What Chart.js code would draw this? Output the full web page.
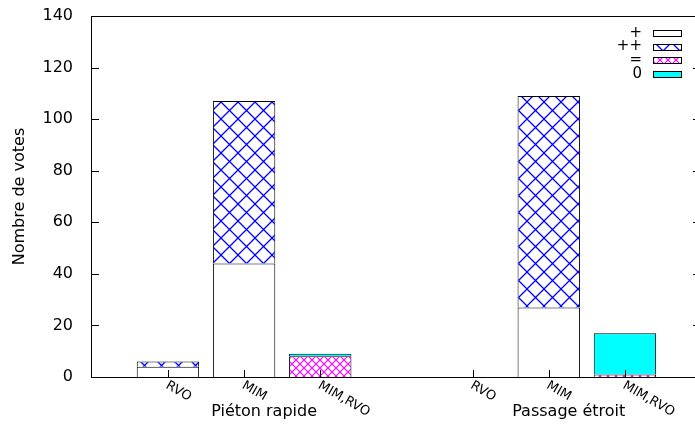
<!DOCTYPE html>
<html>
<head>
<meta charset="utf-8">
<script src="https://cdn.jsdelivr.net/npm/chart.js@4.4.1/dist/chart.umd.min.js"></script>
<style>
html, body { margin: 0; padding: 0; background: #fff; }
</style>
</head>
<body>
<canvas id="votesChart" width="695" height="427"></canvas>
<script>
// slot of each bar on the x axis (slot 3 is the gap between the two groups)
const slots = [0, 1, 2, 4, 5, 6];
const barLabels = ['RVO', 'MIM', 'MIM,RVO', 'RVO', 'MIM', 'MIM,RVO'];
const groupNames = ['Piéton rapide', 'Passage étroit'];
const groupMiddle = [1, 5];

const seriesNames = ['+', '++', '=', '0'];
const votesPlus = [4, 44, 0, 0, 27, 0];
const votesPlusPlus = [2, 63, 0, 0, 82, 0];
const votesEqual = [0, 0, 8, 0, 0, 1];
const votesZero = [0, 0, 1, 0, 0, 16];

const FONT = "'DejaVu Sans', sans-serif";

function hatch(color, size, width) {
    const c = document.createElement('canvas');
    c.width = size;
    c.height = size;
    const g = c.getContext('2d');
    g.fillStyle = '#fff';
    g.fillRect(0, 0, size, size);
    g.strokeStyle = color;
    g.lineWidth = width;
    g.beginPath();
    g.moveTo(-1, -1);
    g.lineTo(size + 1, size + 1);
    g.moveTo(size + 1, -1);
    g.lineTo(-1, size + 1);
    g.stroke();
    return g.createPattern(c, 'repeat');
}

const fills = ['#ffffff', hatch('#0000ff', 17, 1.3), hatch('#ff00ff', 8, 1.2), '#00ffff'];
const allSeries = [votesPlus, votesPlusPlus, votesEqual, votesZero];

// empty segments are left out so no flat outline is drawn for them
function points(values) {
    return slots.map((x, i) => ({ x: x, y: values[i] })).filter(p => p.y > 0);
}

// frame, inward ticks, rotated bar labels, group names and key
const gnuplotLook = {
    id: 'gnuplotLook',
    afterDraw(chart) {
        const ctx = chart.ctx;
        const a = chart.chartArea;
        const xs = chart.scales.x;
        const ys = chart.scales.y;
        ctx.save();
        ctx.strokeStyle = '#000';
        ctx.lineWidth = 1;
        ctx.strokeRect(a.left + 0.5, a.top + 0.5, a.right - a.left + 5, a.bottom - a.top);

        ctx.beginPath();
        ys.ticks.forEach(t => {
            const y = Math.round(ys.getPixelForValue(t.value)) + 0.5;
            ctx.moveTo(a.left, y);
            ctx.lineTo(a.left + 8, y);
            ctx.moveTo(a.right, y);
            ctx.lineTo(a.right - 2, y);
        });
        slots.forEach(s => {
            const x = Math.round(xs.getPixelForValue(s)) + 0.5;
            ctx.moveTo(x, a.bottom);
            ctx.lineTo(x, a.bottom - 7);
        });
        ctx.stroke();

        ctx.fillStyle = '#000';
        ctx.font = '13px ' + FONT;
        ctx.textAlign = 'left';
        ctx.textBaseline = 'top';
        slots.forEach((s, i) => {
            const x = xs.getPixelForValue(s);
            ctx.save();
            ctx.translate(x + 2, a.bottom + 2);
            ctx.rotate(Math.PI / 6);
            ctx.fillText(barLabels[i], 0, 0);
            ctx.restore();
        });

        ctx.font = '16px ' + FONT;
        ctx.textAlign = 'center';
        ctx.textBaseline = 'middle';
        groupNames.forEach((name, i) => {
            ctx.fillText(name, xs.getPixelForValue(groupMiddle[i]) + 20, a.bottom + 35);
        });

        ctx.font = '15px ' + FONT;
        ctx.textAlign = 'right';
        chart.data.datasets.forEach((ds, i) => {
            const y = a.top + 17 + 13.6 * i;
            ctx.fillText(ds.label, a.right - 53, y);
            ctx.fillStyle = ds.backgroundColor;
            ctx.fillRect(a.right - 42, Math.round(y - 3), 29, 6);
            ctx.strokeRect(a.right - 41.5, Math.round(y - 3) + 0.5, 28, 6);
            ctx.fillStyle = '#000';
        });
        ctx.restore();
    }
};

const votesChart = new Chart(document.getElementById('votesChart'), {
    type: 'bar',
    data: {
        datasets: seriesNames.map((name, i) => ({
            label: name,
            data: points(allSeries[i]),
            backgroundColor: fills[i],
            borderColor: '#000',
            borderWidth: 1,
            borderSkipped: 'start',
            barPercentage: 0.89,
            categoryPercentage: 1
        }))
    },
    options: {
        responsive: false,
        animation: false,
        devicePixelRatio: 1,
        layout: { autoPadding: false, padding: { top: 16, right: 0, left: 0, bottom: 0 } },
        plugins: {
            legend: { display: false },
            tooltip: { enabled: false }
        },
        scales: {
            x: {
                type: 'linear',
                stacked: true,
                offset: false,
                min: -1.01,
                max: 6.92,
                grid: { display: false },
                border: { display: false },
                ticks: { display: false },
                afterFit: s => { s.height = 50; }
            },
            y: {
                stacked: true,
                min: 0,
                max: 140,
                grid: { display: false },
                border: { display: false },
                ticks: {
                    stepSize: 20,
                    color: '#000',
                    padding: 10,
                    font: { family: FONT, size: 16 }
                },
                title: {
                    display: true,
                    text: 'Nombre de votes',
                    color: '#000',
                    padding: { top: 10, bottom: 0 },
                    font: { family: FONT, size: 16 }
                },
                afterFit: s => {
                    s.width = 91;
                    s.paddingTop = 0;
                    s.paddingBottom = 0;
                }
            }
        }
    },
    plugins: [gnuplotLook]
});
</script>
</body>
</html>
